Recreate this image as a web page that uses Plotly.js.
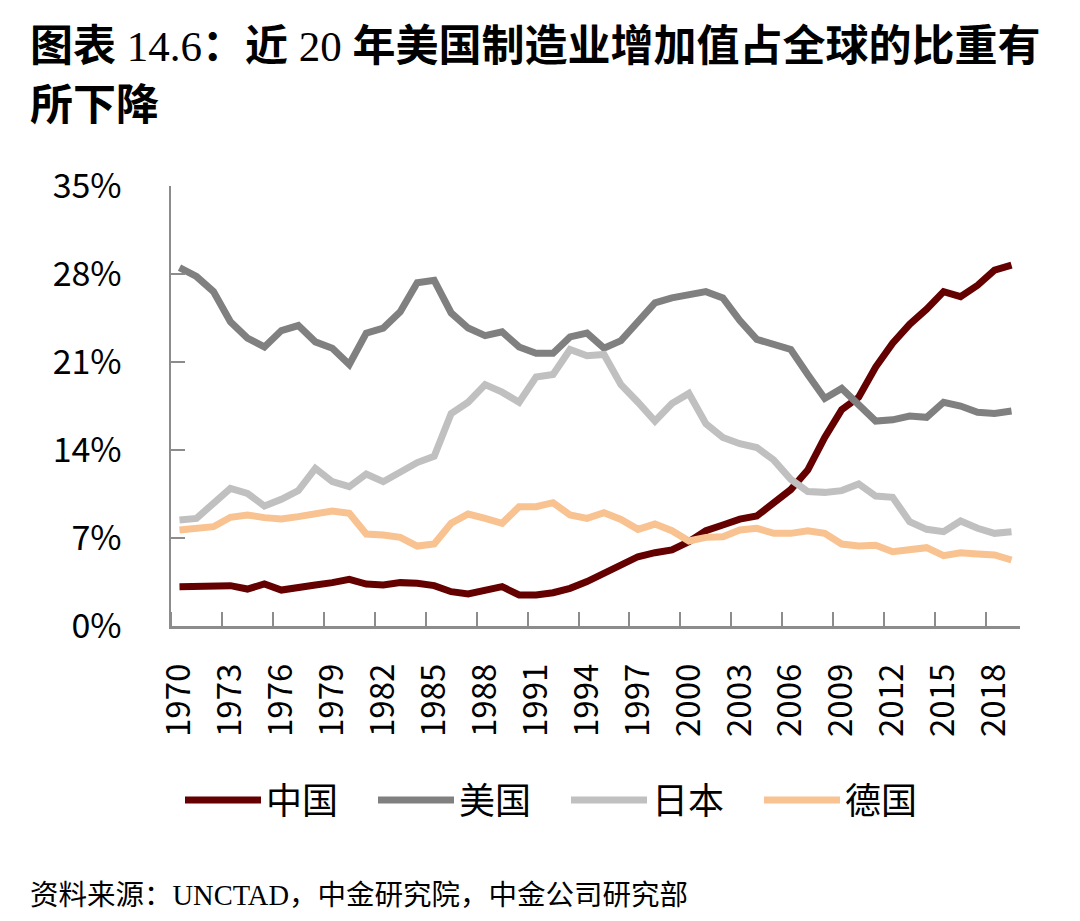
<!DOCTYPE html>
<html>
<head>
<meta charset="utf-8">
<script src="https://cdn.plot.ly/plotly-3.0.1.min.js"></script>
<style>html,body{margin:0;padding:0;background:#fff;}#chart{width:1080px;height:921px;}</style>
</head>
<body>
<div id="chart"></div>
<script>
const years = [];
for (let y = 1970; y <= 2019; y++) years.push(y);

const china = [3.13,3.18,3.21,3.21,2.94,3.34,2.86,3.0,3.26,3.45,3.71,3.34,3.26,3.45,3.4,3.21,2.73,2.55,2.86,3.13,2.47,2.47,2.65,3.0,3.53,4.19,4.93,5.51,5.83,6.05,6.71,7.58,8.03,8.5,8.75,9.76,10.85,12.4,15.0,17.2,18.2,20.6,22.5,24.0,25.2,26.6,26.2,27.1,28.3,28.7];
const usa = [28.5,27.8,26.6,24.2,22.9,22.2,23.5,23.9,22.6,22.1,20.8,23.3,23.7,25.0,27.3,27.5,24.9,23.7,23.1,23.4,22.2,21.7,21.7,23.0,23.3,22.1,22.7,24.1,25.7,26.1,26.4,26.6,26.1,24.3,22.8,22.4,22.0,20.0,18.1,18.9,17.6,16.3,16.4,16.7,16.6,17.8,17.5,17.0,16.9,17.1];
const japan = [8.43,8.56,9.76,10.95,10.55,9.55,10.08,10.77,12.54,11.48,11.08,12.09,11.48,12.28,13.0,13.5,16.9,17.8,19.2,18.6,17.8,19.8,20.0,22.0,21.5,21.6,19.2,17.8,16.3,17.7,18.5,16.1,15.0,14.5,14.2,13.2,11.67,10.69,10.63,10.77,11.3,10.34,10.24,8.3,7.69,7.5,8.35,7.77,7.37,7.5];
const germany = [7.64,7.77,7.9,8.65,8.83,8.62,8.51,8.7,8.91,9.15,8.96,7.32,7.24,7.05,6.36,6.52,8.17,8.91,8.56,8.17,9.49,9.49,9.81,8.83,8.56,9.01,8.48,7.69,8.11,7.58,6.76,7.05,7.1,7.64,7.77,7.37,7.37,7.58,7.37,6.52,6.36,6.42,5.91,6.1,6.23,5.59,5.83,5.73,5.65,5.25];

const seriesNames = ['中国','美国','日本','德国'];
const seriesColors = ['#650000','#808080','#c0c0c0','#f8c291'];
const seriesData = [china, usa, japan, germany];

const xTickVals = [];
for (let y = 1970; y <= 2018; y += 3) xTickVals.push(y);
const xTickText = xTickVals.map(String);
const yTickVals = [0,7,14,21,28,35];
const yTickText = ['0%','7%','14%','21%','28%','35%'];

const titleLine1 = '<b>图表</b><span style="font-family:Liberation Serif;font-weight:normal"> 14.6</span><b>：近</b><span style="font-family:Liberation Serif;font-weight:normal"> 20 </span><b>年美国制造业增加值占全球的比重有</b>';
const titleLine2 = '<b>所下降</b>';
const sourceText = '资料来源：<span style="font-family:Liberation Serif">UNCTAD</span>，中金研究院，中金公司研究部';

const traces = seriesData.map((d, i) => ({
  x: years, y: d, name: seriesNames[i], type: 'scatter', mode: 'lines',
  line: {color: seriesColors[i], width: 7}
}));

const FONT = '"Noto Sans CJK SC", "Noto Sans", sans-serif';
const L = 171, R = 60, T = 186, B = 295;
const pw = 1080 - L - R, ph = 921 - T - B;
const px2x = (px) => (px - L) / pw;
const py2y = (py) => (921 - B - py) / ph;

const layout = {
  width: 1080, height: 921,
  margin: {l: L, r: R, t: T, b: B},
  paper_bgcolor: '#fff', plot_bgcolor: '#fff',
  font: {family: FONT, color: '#000'},
  showlegend: true,
  xaxis: {
    type: 'linear', range: [1969.5, 2019.5],
    tickmode: 'array', tickvals: xTickVals, ticktext: xTickText,
    ticks: '', tickangle: -90, ticklabelstandoff: 22,
    tickfont: {family: FONT, size: 33, color: '#000'},
    minor: {tickmode: 'linear', tick0: 1969.5, dtick: 3, ticks: 'inside', ticklen: 14, tickwidth: 2, tickcolor: '#8c8c8c', showgrid: false},
    showline: true, linecolor: '#8c8c8c', linewidth: 2.5,
    showgrid: false, zeroline: false, fixedrange: true
  },
  yaxis: {
    range: [0, 35], tickmode: 'array', tickvals: yTickVals, ticktext: yTickText,
    ticks: 'inside', ticklen: 14, tickwidth: 2, tickcolor: '#8c8c8c',
    ticklabelstandoff: 40,
    tickfont: {family: FONT, size: 34, color: '#000'},
    showline: true, linecolor: '#8c8c8c', linewidth: 2.5,
    showgrid: false, zeroline: false, fixedrange: true
  },
  legend: {
    orientation: 'h', x: px2x(180), xanchor: 'left', y: py2y(800), yanchor: 'middle',
    font: {family: FONT, size: 36, color: '#000'},
    itemwidth: 76, entrywidth: 102, entrywidthmode: 'pixels',
    bgcolor: 'rgba(0,0,0,0)', traceorder: 'normal'
  },
  annotations: [
    {text: titleLine1, xref: 'paper', yref: 'paper', x: px2x(28), y: py2y(42), xanchor: 'left', yanchor: 'middle', showarrow: false,
     font: {family: FONT, size: 43, color: '#000', weight: 900}},
    {text: titleLine2, xref: 'paper', yref: 'paper', x: px2x(28), y: py2y(101), xanchor: 'left', yanchor: 'middle', showarrow: false,
     font: {family: FONT, size: 43, color: '#000', weight: 900}},
    {text: sourceText, xref: 'paper', yref: 'paper', x: px2x(28), y: py2y(892), xanchor: 'left', yanchor: 'middle', showarrow: false,
     font: {family: FONT, size: 28.5, color: '#000'}}
  ]
};

Plotly.newPlot('chart', traces, layout, {displayModeBar: false, staticPlot: true});
</script>
</body>
</html>
